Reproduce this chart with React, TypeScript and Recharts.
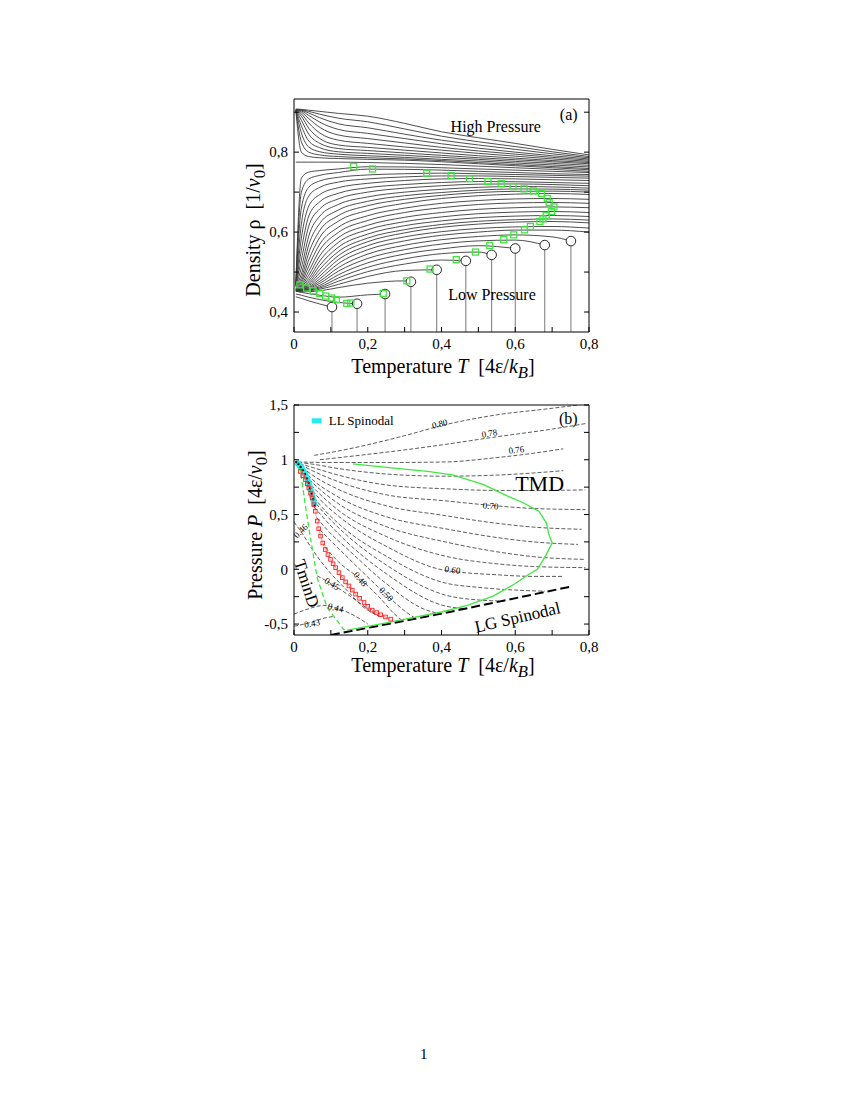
import React from 'react'
import { ComposedChart, Line, Scatter, XAxis, YAxis, ReferenceDot } from 'recharts'

const serif = '"Liberation Serif", "DejaVu Serif", serif'

// ---------- panel (a): isobars, density vs temperature ----------
const gridT = [0.005, 0.02, 0.04, 0.07, 0.12, 0.2, 0.3, 0.4, 0.5, 0.6, 0.7, 0.8]

// high pressure isobars (top family)
const hi1 = [0.908, 0.907, 0.905, 0.902, 0.897, 0.89, 0.872, 0.851, 0.836, 0.822, 0.807, 0.793]
const hi2 = [0.907, 0.906, 0.902, 0.895, 0.885, 0.876, 0.858, 0.84, 0.826, 0.814, 0.801, 0.789]
const hi3 = [0.907, 0.905, 0.898, 0.886, 0.871, 0.861, 0.845, 0.83, 0.818, 0.807, 0.796, 0.786]
const hi4 = [0.906, 0.903, 0.892, 0.875, 0.857, 0.847, 0.834, 0.821, 0.81, 0.8, 0.791, 0.783]
const hi5 = [0.906, 0.9, 0.884, 0.862, 0.843, 0.834, 0.823, 0.812, 0.803, 0.795, 0.787, 0.78]
const hi6 = [0.906, 0.896, 0.873, 0.848, 0.83, 0.822, 0.813, 0.805, 0.797, 0.79, 0.783, 0.777]
const hi7 = [0.905, 0.89, 0.86, 0.834, 0.818, 0.812, 0.805, 0.798, 0.791, 0.785, 0.779, 0.774]
const hi8 = [0.905, 0.88, 0.845, 0.822, 0.809, 0.804, 0.798, 0.792, 0.786, 0.781, 0.776, 0.771]
const hi9 = [0.905, 0.866, 0.828, 0.811, 0.801, 0.797, 0.792, 0.787, 0.782, 0.777, 0.772, 0.767]
const hi10 = [0.905, 0.848, 0.813, 0.801, 0.795, 0.791, 0.787, 0.782, 0.778, 0.773, 0.768, 0.763]
const hi11 = [0.904, 0.826, 0.8, 0.793, 0.789, 0.786, 0.783, 0.779, 0.774, 0.769, 0.764, 0.759]
const hi12 = [0.904, 0.8, 0.789, 0.786, 0.784, 0.782, 0.78, 0.776, 0.771, 0.766, 0.761, 0.756]
const sep = [0.775, 0.775, 0.775, 0.775, 0.775, 0.774, 0.772, 0.769, 0.765, 0.761, 0.757, 0.752]

// low pressure isobars running to the right edge
const lo1 = [0.472, 0.735, 0.75, 0.754, 0.758, 0.7635, 0.763, 0.761, 0.758, 0.755, 0.752, 0.749]
const lo2 = [0.471, 0.7, 0.733, 0.742, 0.749, 0.7575, 0.757, 0.755, 0.752, 0.749, 0.746, 0.744]
const lo3 = [0.47, 0.66, 0.712, 0.728, 0.737, 0.743, 0.746, 0.7475, 0.746, 0.744, 0.742, 0.74]
const lo4 = [0.469, 0.62, 0.69, 0.712, 0.725, 0.733, 0.738, 0.7405, 0.7405, 0.739, 0.737, 0.735]
const lo5 = [0.468, 0.585, 0.665, 0.694, 0.711, 0.722, 0.729, 0.733, 0.734, 0.733, 0.731, 0.729]
const lo6 = [0.467, 0.555, 0.64, 0.676, 0.697, 0.711, 0.719, 0.724, 0.7265, 0.726, 0.724, 0.722]
const lo7 = [0.466, 0.53, 0.615, 0.658, 0.683, 0.7, 0.71, 0.716, 0.72, 0.7205, 0.719, 0.716]
const lo8 = [0.465, 0.51, 0.59, 0.64, 0.669, 0.688, 0.7, 0.707, 0.712, 0.714, 0.713, 0.71]
const lo9 = [0.464, 0.495, 0.568, 0.622, 0.655, 0.677, 0.691, 0.699, 0.705, 0.708, 0.7075, 0.705]
const lo10 = [0.463, 0.485, 0.548, 0.604, 0.641, 0.666, 0.682, 0.692, 0.699, 0.702, 0.7025, 0.7]
const lo11 = [0.462, 0.478, 0.53, 0.587, 0.627, 0.654, 0.672, 0.684, 0.691, 0.695, 0.6965, 0.694]
const lo12 = [0.461, 0.473, 0.515, 0.57, 0.612, 0.641, 0.66, 0.672, 0.679, 0.683, 0.684, 0.682]
const lo13 = [0.46, 0.469, 0.502, 0.555, 0.599, 0.629, 0.649, 0.661, 0.669, 0.673, 0.674, 0.672]
const lo14 = [0.459, 0.466, 0.492, 0.541, 0.586, 0.617, 0.637, 0.649, 0.657, 0.661, 0.663, 0.661]
const lo15 = [0.458, 0.464, 0.484, 0.528, 0.574, 0.606, 0.626, 0.638, 0.646, 0.65, 0.6515, 0.649]
const lo16 = [0.458, 0.462, 0.478, 0.517, 0.562, 0.595, 0.616, 0.628, 0.636, 0.64, 0.6415, 0.639]
const lo17 = [0.457, 0.461, 0.473, 0.507, 0.551, 0.585, 0.606, 0.619, 0.627, 0.631, 0.633, 0.63]
const lo18 = [0.457, 0.46, 0.469, 0.498, 0.541, 0.576, 0.598, 0.612, 0.62, 0.625, 0.6265, 0.623]
const lo19 = [0.456, 0.459, 0.466, 0.49, 0.531, 0.566, 0.588, 0.601, 0.609, 0.613, 0.614, 0.61]
const lo20 = [0.456, 0.458, 0.463, 0.483, 0.521, 0.556, 0.578, 0.592, 0.6, 0.605, 0.605, 0.6]

// low pressure isobars that end at a circle (same order as circT)
const lo21 = [0.455, 0.457, 0.461, 0.477, 0.511, 0.545, 0.567, 0.581, 0.589, 0.593, 0.588]
const lo22 = [0.455, 0.456, 0.459, 0.472, 0.502, 0.534, 0.556, 0.57, 0.578, 0.58]
const lo23 = [0.454, 0.455, 0.457, 0.467, 0.493, 0.523, 0.545, 0.558, 0.566]
const lo24 = [0.454, 0.454, 0.456, 0.463, 0.485, 0.512, 0.533, 0.546, 0.55]
const lo25 = [0.453, 0.453, 0.455, 0.46, 0.477, 0.501, 0.52, 0.53]
const lo26 = [0.453, 0.452, 0.453, 0.457, 0.469, 0.489, 0.504]
const lo27 = [0.452, 0.451, 0.451, 0.453, 0.461, 0.472, 0.478]
const lo28 = [0.452, 0.449, 0.446, 0.442, 0.437, 0.443]
const lo29 = [0.445, 0.442, 0.437, 0.431, 0.424]
const lo30 = [0.438, 0.434, 0.428, 0.42]

const circT = [0.751, 0.68, 0.6, 0.536, 0.466, 0.387, 0.317, 0.247, 0.171, 0.103]
const circRho = [0.5775, 0.5675, 0.559, 0.543, 0.528, 0.5057, 0.4757, 0.445, 0.4207, 0.4125]

const extT = [0.162, 0.213, 0.36, 0.426, 0.476, 0.526, 0.562, 0.594, 0.624, 0.649, 0.671, 0.687, 0.692, 0.705, 0.698, 0.684, 0.675, 0.667, 0.641, 0.625, 0.596, 0.569, 0.531, 0.492, 0.44, 0.369, 0.306, 0.242, 0.154, 0.143, 0.115, 0.102, 0.086, 0.07, 0.052, 0.034, 0.016]
const extRho = [0.764, 0.758, 0.7475, 0.741, 0.734, 0.7265, 0.721, 0.714, 0.708, 0.703, 0.6965, 0.684, 0.674, 0.663, 0.6515, 0.6415, 0.633, 0.6265, 0.614, 0.6057, 0.593, 0.581, 0.5665, 0.55, 0.531, 0.5075, 0.478, 0.4465, 0.4225, 0.4215, 0.431, 0.435, 0.44, 0.4465, 0.453, 0.46, 0.468]

// ---------- panel (b): isochores, pressure vs temperature ----------
const iso80 = [[0.055, 1.04], [0.15, 1.1], [0.3, 1.22], [0.41, 1.32], [0.55, 1.41], [0.7, 1.47], [0.77, 1.5]]
const iso78 = [[0.07, 1.0], [0.15, 1.03], [0.3, 1.09], [0.41, 1.14], [0.55, 1.21], [0.7, 1.28], [0.79, 1.33]]
const iso76 = [[0.01, 0.98], [0.1, 0.975], [0.25, 0.975], [0.41, 0.98], [0.55, 1.02], [0.65, 1.06], [0.73, 1.1]]
const iso74 = [[0.012, 0.975], [0.05, 0.96], [0.12, 0.92], [0.25, 0.87], [0.41, 0.85], [0.55, 0.86], [0.73, 0.9]]
const iso72 = [[0.015, 0.965], [0.05, 0.93], [0.12, 0.86], [0.25, 0.77], [0.41, 0.735], [0.55, 0.72], [0.65, 0.72], [0.79, 0.725]]
const iso70 = [[0.018, 0.955], [0.05, 0.9], [0.12, 0.8], [0.25, 0.68], [0.41, 0.625], [0.53, 0.585], [0.65, 0.555], [0.79, 0.545]]
const iso68 = [[0.022, 0.93], [0.05, 0.86], [0.12, 0.73], [0.25, 0.58], [0.41, 0.49], [0.55, 0.42], [0.65, 0.385], [0.78, 0.365]]
const iso66 = [[0.026, 0.9], [0.05, 0.82], [0.12, 0.66], [0.25, 0.48], [0.41, 0.37], [0.55, 0.29], [0.65, 0.25], [0.77, 0.227]]
const iso64 = [[0.03, 0.86], [0.06, 0.76], [0.12, 0.6], [0.25, 0.39], [0.41, 0.25], [0.55, 0.16], [0.65, 0.115], [0.79, 0.09]]
const iso62 = [[0.035, 0.81], [0.06, 0.72], [0.12, 0.54], [0.25, 0.3], [0.41, 0.12], [0.55, 0.05], [0.65, 0.025], [0.79, 0.015]]
const iso60 = [[0.04, 0.76], [0.07, 0.64], [0.13, 0.46], [0.25, 0.21], [0.41, -0.01], [0.55, -0.05], [0.65, -0.065], [0.73, -0.065]]
const iso58 = [[0.045, 0.7], [0.07, 0.59], [0.13, 0.39], [0.25, 0.12], [0.41, -0.125], [0.5, -0.165], [0.6, -0.19], [0.68, -0.2]]
const iso56 = [[0.05, 0.64], [0.08, 0.52], [0.14, 0.32], [0.25, 0.04], [0.41, -0.235], [0.5, -0.28], [0.57, -0.29]]
const iso54 = [[0.055, 0.57], [0.08, 0.47], [0.14, 0.26], [0.25, -0.04], [0.41, -0.335], [0.47, -0.36]]
const iso52 = [[0.062, 0.47], [0.09, 0.36], [0.15, 0.17], [0.25, -0.13], [0.35, -0.36], [0.4, -0.41]]
const iso50 = [[0.07, 0.36], [0.1, 0.26], [0.16, 0.06], [0.249, -0.227], [0.3, -0.38], [0.33, -0.45]]
const iso48 = [[0.085, 0.2], [0.12, 0.07], [0.18, -0.09], [0.23, -0.25], [0.27, -0.4], [0.29, -0.46]]
const iso46 = [[0.0, 0.43], [0.02, 0.34], [0.05, 0.18], [0.09, 0.0], [0.14, -0.18], [0.19, -0.35], [0.24, -0.44]]
const iso45 = [[0.063, -0.06], [0.1, -0.13], [0.15, -0.24], [0.2, -0.36], [0.23, -0.43]]
const iso44 = [[0.0, -0.41], [0.04, -0.36], [0.08, -0.33], [0.12, -0.36], [0.18, -0.455], [0.2, -0.5]]
const iso43 = [[0.0, -0.52], [0.04, -0.49], [0.09, -0.44], [0.11, -0.43]]

const tmdLine = [[0.145, -0.555], [0.25, -0.49], [0.4, -0.39], [0.47, -0.33], [0.54, -0.245], [0.6, -0.13], [0.635, -0.05], [0.66, 0.0], [0.682, 0.12], [0.7, 0.24], [0.69, 0.33], [0.685, 0.42], [0.664, 0.53], [0.62, 0.61], [0.578, 0.67], [0.514, 0.773], [0.43, 0.862], [0.362, 0.894], [0.25, 0.93], [0.16, 0.963]]
const tminLine = [[0.016, 0.94], [0.03, 0.6], [0.043, 0.32], [0.063, -0.08], [0.09, -0.35], [0.135, -0.55], [0.145, -0.555]]
const lgSpinodal = [[0.1, -0.6], [0.4, -0.405], [0.755, -0.155]]
const llSpinodal = [[0.006, 0.98], [0.012, 0.96], [0.018, 0.935], [0.024, 0.905], [0.03, 0.87], [0.035, 0.83], [0.04, 0.79], [0.044, 0.74], [0.048, 0.69], [0.052, 0.64], [0.056, 0.58]]
const redSq = [[0.017, 0.894], [0.024, 0.855], [0.031, 0.818], [0.036, 0.78], [0.04, 0.742], [0.045, 0.695], [0.049, 0.651], [0.054, 0.59], [0.058, 0.53], [0.063, 0.44], [0.067, 0.37], [0.072, 0.303], [0.078, 0.24], [0.085, 0.18], [0.092, 0.135], [0.099, 0.09], [0.106, 0.05], [0.113, 0.015], [0.122, -0.03], [0.131, -0.076], [0.14, -0.115], [0.149, -0.152], [0.158, -0.19], [0.167, -0.227], [0.178, -0.265], [0.19, -0.303], [0.2, -0.338], [0.212, -0.373], [0.224, -0.395], [0.235, -0.415], [0.248, -0.435], [0.262, -0.455]]

const xTicks = [0, 0.1, 0.2, 0.3, 0.4, 0.5, 0.6, 0.7, 0.8]
const yTicksA = [0.4, 0.5, 0.6, 0.7, 0.8, 0.9]
const yTicksB = [-0.5, -0.25, 0, 0.25, 0.5, 0.75, 1, 1.25, 1.5]

const fmt = (v: number) => String(Math.round(v * 100) / 100).replace('.', ',')
const fmtTenth = (v: number) => (Math.round(v * 10) % 2 === 0 ? fmt(v) : '')
const fmtQuarter = (v: number) => (Math.round(v * 4) % 2 === 0 ? fmt(v) : '')

const toPts = (vals: number[]) => vals.map((v, i) => ({ T: gridT[i], v }))
const pairPts = (pairs: number[][]) => pairs.map(([T, v]) => ({ T, v }))

const highCurves = [hi1, hi2, hi3, hi4, hi5, hi6, hi7, hi8, hi9, hi10, hi11, hi12, sep]
const openCurves = [lo1, lo2, lo3, lo4, lo5, lo6, lo7, lo8, lo9, lo10, lo11, lo12, lo13, lo14, lo15, lo16, lo17, lo18, lo19, lo20]
const closedCurves = [lo21, lo22, lo23, lo24, lo25, lo26, lo27, lo28, lo29, lo30]
const isochores = [iso80, iso78, iso76, iso74, iso72, iso70, iso68, iso66, iso64, iso62, iso60, iso58, iso56, iso54, iso52, iso50, iso48, iso46, iso45, iso44, iso43]

const extremaPts = extT.map((T, i) => ({ T, v: extRho[i] }))
const circlePts = circT.map((T, i) => ({ T, v: circRho[i] }))

const lineStyle = { stroke: '#000', strokeWidth: 1 }
const tickStyle = { fontSize: 15, fill: '#000', fontFamily: serif }

function axisSet(yDomain: number[], yTicks: number[], yFmt: (v: number) => string) {
  return [
    <XAxis key="xb" dataKey="T" type="number" domain={[0, 0.8]} ticks={xTicks} interval={0} allowDataOverflow
      tickFormatter={fmtTenth} tick={tickStyle} tickSize={-5} tickMargin={11} height={30} axisLine={lineStyle} tickLine={lineStyle} />,
    <XAxis key="xt" xAxisId="top" orientation="top" type="number" domain={[0, 0.8]} ticks={xTicks} interval={0} allowDataOverflow
      tickFormatter={() => ''} tickSize={-5} height={1} axisLine={lineStyle} tickLine={lineStyle} />,
    <YAxis key="yl" dataKey="v" type="number" domain={yDomain} ticks={yTicks} interval={0} allowDataOverflow
      tickFormatter={yFmt} tick={tickStyle} tickSize={-5} tickMargin={11} width={64} axisLine={lineStyle} tickLine={lineStyle} />,
    <YAxis key="yr" yAxisId="right" orientation="right" type="number" domain={yDomain} ticks={yTicks} interval={0} allowDataOverflow
      tickFormatter={() => ''} tickSize={-5} width={1} axisLine={lineStyle} tickLine={lineStyle} />,
  ]
}

function tag(x: number, y: number, text: string, size: number, rot = 0, anchor = 'middle') {
  return (
    <ReferenceDot key={text + x} x={x} y={y} r={0} ifOverflow="visible"
      shape={(p: any) => (
        <text x={p.cx} y={p.cy} fontSize={size} fontFamily={serif} fill="#000" textAnchor={anchor}
          dominantBaseline="central" transform={`rotate(${rot} ${p.cx} ${p.cy})`}>{text}</text>
      )} />
  )
}

const greenSquare = (p: any) => (
  <rect x={p.cx - 3} y={p.cy - 3} width={6} height={6} fill="none" stroke="#3ee83e" strokeWidth={1.3} />
)
const blackCircle = (p: any) => (
  <circle cx={p.cx} cy={p.cy} r={4.8} fill="#fff" stroke="#111" strokeWidth={0.9} />
)
const redSquare = (p: any) => (
  <rect x={p.cx - 1.8} y={p.cy - 1.8} width={3.6} height={3.6} fill="none" stroke="#ff2222" strokeWidth={0.9} />
)

function PanelA() {
  return (
    <ComposedChart width={370} height={282} margin={{ top: 18, right: 10, bottom: 0, left: 0 }}>
      {axisSet([0.35, 0.933], yTicksA, fmtTenth)}
      {highCurves.map((c, i) => (
        <Line key={'h' + i} data={toPts(c)} dataKey="v" type="monotone" stroke="#3a3a3a" strokeWidth={0.9}
          dot={false} activeDot={false} isAnimationActive={false} />
      ))}
      {openCurves.map((c, i) => (
        <Line key={'o' + i} data={toPts(c)} dataKey="v" type="monotone" stroke="#3a3a3a" strokeWidth={0.9}
          dot={false} activeDot={false} isAnimationActive={false} />
      ))}
      {closedCurves.map((c, i) => (
        <Line key={'c' + i} data={[...toPts(c), { T: circT[i], v: circRho[i] }]} dataKey="v" type="monotone"
          stroke="#3a3a3a" strokeWidth={0.9} dot={false} activeDot={false} isAnimationActive={false} />
      ))}
      {circT.map((T, i) => (
        <Line key={'d' + i} data={[{ T, v: circRho[i] }, { T, v: 0.35 }]} dataKey="v" type="linear"
          stroke="#555" strokeWidth={0.8} dot={false} activeDot={false} isAnimationActive={false} />
      ))}
      <Scatter data={circlePts} dataKey="v" shape={blackCircle} isAnimationActive={false} />
      <Scatter data={extremaPts} dataKey="v" shape={greenSquare} isAnimationActive={false} />
      {tag(0.547, 0.864, 'High Pressure', 16)}
      {tag(0.537, 0.443, 'Low Pressure', 16)}
      {tag(0.745, 0.893, '(a)', 16)}
    </ComposedChart>
  )
}

function PanelB() {
  return (
    <ComposedChart width={370} height={284} margin={{ top: 23, right: 10, bottom: 0, left: 0 }}>
      {axisSet([-0.6, 1.5], yTicksB, fmtQuarter)}
      {isochores.map((c, i) => (
        <Line key={'i' + i} data={pairPts(c)} dataKey="v" type="monotone" stroke="#333" strokeWidth={0.8}
          strokeDasharray="4 2" dot={false} activeDot={false} isAnimationActive={false} />
      ))}
      <Line data={pairPts(llSpinodal)} dataKey="v" type="linear" stroke="#22eef0" strokeWidth={6}
        dot={{ r: 0.9, fill: '#000', stroke: '#000', strokeWidth: 0.5 }} activeDot={false} isAnimationActive={false} />
      <Line data={pairPts(redSq)} dataKey="v" type="linear" stroke="#ff4444" strokeWidth={0.5}
        dot={false} activeDot={false} isAnimationActive={false} />
      <Scatter data={pairPts(redSq)} dataKey="v" shape={redSquare} isAnimationActive={false} />
      <Line data={pairPts(tminLine)} dataKey="v" type="linear" stroke="#3ee83e" strokeWidth={1.3}
        strokeDasharray="5 3" dot={false} activeDot={false} isAnimationActive={false} />
      <Line data={pairPts(lgSpinodal)} dataKey="v" type="linear" stroke="#000" strokeWidth={2}
        strokeDasharray="9 4" dot={false} activeDot={false} isAnimationActive={false} />
      <Line data={pairPts(tmdLine)} dataKey="v" type="linear" stroke="#3ee83e" strokeWidth={1.3}
        dot={false} activeDot={false} isAnimationActive={false} />
      {tag(0.395, 1.327, '0.80', 9, -13)}
      {tag(0.53, 1.24, '0.78', 9, -10)}
      {tag(0.603, 1.09, '0.76', 9, -7)}
      {tag(0.533, 0.578, '0.70', 9, 3)}
      {tag(0.43, -0.005, '0.60', 9, 8)}
      {tag(0.25, -0.227, '0.50', 9, 45)}
      {tag(0.18, -0.09, '0.48', 9, 50)}
      {tag(0.018, 0.35, '0.46', 9, -45)}
      {tag(0.103, -0.133, '0.45', 9, 32)}
      {tag(0.113, -0.352, '0.44', 9, 14)}
      {tag(0.049, -0.495, '0.43', 9, -10)}
      {tag(0.666, 0.787, 'TMD', 22)}
      {tag(0.034, -0.13, 'TminD', 17, 72)}
      {tag(0.606, -0.44, 'LG Spinodal', 17, -13)}
      {tag(0.744, 1.378, '(b)', 16)}
      <ReferenceDot x={0.048} y={1.356} r={0} ifOverflow="visible"
        shape={(p: any) => (
          <g>
            <rect x={p.cx} y={p.cy - 2.5} width={10} height={5} fill="#22eef0" />
            <text x={p.cx + 17} y={p.cy} fontSize={13} fontFamily={serif} dominantBaseline="central">LL Spinodal</text>
          </g>
        )} />
    </ComposedChart>
  )
}

const titleStyle: React.CSSProperties = {
  position: 'absolute', fontFamily: serif, fontSize: 20, whiteSpace: 'nowrap', color: '#000',
  transform: 'translate(-50%, -50%)', lineHeight: 1,
}

export default function App() {
  return (
    <div style={{ position: 'relative', width: 834, height: 1084 }}>
      <div style={{ position: 'absolute', left: 222, top: 72 }}>
        <PanelA />
      </div>
      <div style={{ position: 'absolute', left: 222, top: 373 }}>
        <PanelB />
      </div>
      <div style={{ ...titleStyle, left: 435, top: 361 }}>
        Temperature <i>T</i>&nbsp;&nbsp;[4ε/<i>k</i><sub><i>B</i></sub>]
      </div>
      <div style={{ ...titleStyle, left: 248, top: 222, transform: 'translate(-50%, -50%) rotate(-90deg)' }}>
        Density ρ&nbsp;&nbsp;[1/<i>v</i><sub>0</sub>]
      </div>
      <div style={{ ...titleStyle, left: 435, top: 660 }}>
        Temperature <i>T</i>&nbsp;&nbsp;[4ε/<i>k</i><sub><i>B</i></sub>]
      </div>
      <div style={{ ...titleStyle, left: 250, top: 517, transform: 'translate(-50%, -50%) rotate(-90deg)' }}>
        Pressure <i>P</i>&nbsp;&nbsp;[4ε/<i>v</i><sub>0</sub>]
      </div>
      <div style={{ position: 'absolute', left: 412, top: 1038, fontFamily: serif, fontSize: 15 }}>1</div>
    </div>
  )
}
